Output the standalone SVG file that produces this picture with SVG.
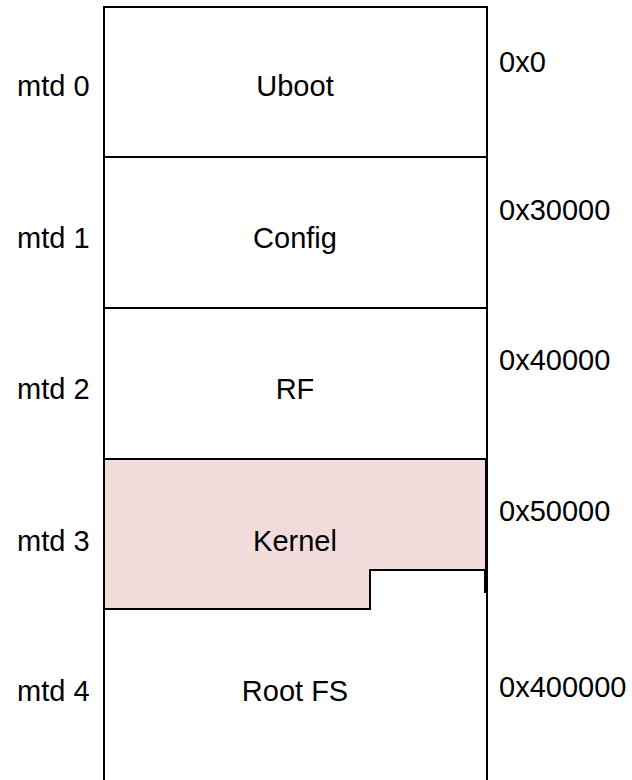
<svg xmlns="http://www.w3.org/2000/svg" width="632" height="780" viewBox="0 0 632 780">
<style>
.t{font-family:"Liberation Sans",Arial,sans-serif;font-size:29px;fill:#000}
.c{text-anchor:middle}
.ln{stroke:#000;stroke-width:2;fill:none}
</style>
<rect width="632" height="780" fill="#fff"/>
<g id="labels">
<text class="t" x="17" y="96">mtd 0</text>
<text class="t" x="17" y="248">mtd 1</text>
<text class="t" x="17" y="399">mtd 2</text>
<text class="t" x="17" y="551">mtd 3</text>
<text class="t" x="17" y="701">mtd 4</text>
</g>
<g id="addresses">
<text class="t" x="499" y="72">0x0</text>
<text class="t" x="499" y="220">0x30000</text>
<text class="t" x="499" y="370">0x40000</text>
<text class="t" x="499" y="521">0x50000</text>
<text class="t" x="499" y="697">0x400000</text>
</g>
<g id="uboot">
<path class="ln" d="M104 7H487V157H104Z"/>
<text class="t c" x="295" y="96">Uboot</text>
</g>
<g id="config">
<path class="ln" d="M104 157H487V308H104Z"/>
<text class="t c" x="295" y="248">Config</text>
</g>
<g id="rf">
<path class="ln" d="M104 308H487V459H104Z"/>
<text class="t c" x="295" y="399">RF</text>
</g>
<g id="rootfs">
<path class="ln" d="M104 609V781M487 459V781"/>
<text class="t c" x="295" y="701">Root FS</text>
</g>
<g id="kernel">
<path d="M104 459H486V570H370V609H104Z" fill="#f2dcdb" stroke="#000" stroke-width="2"/>
<path class="ln" d="M485 570V593"/>
<text class="t c" x="295" y="551">Kernel</text>
</g>
</svg>
